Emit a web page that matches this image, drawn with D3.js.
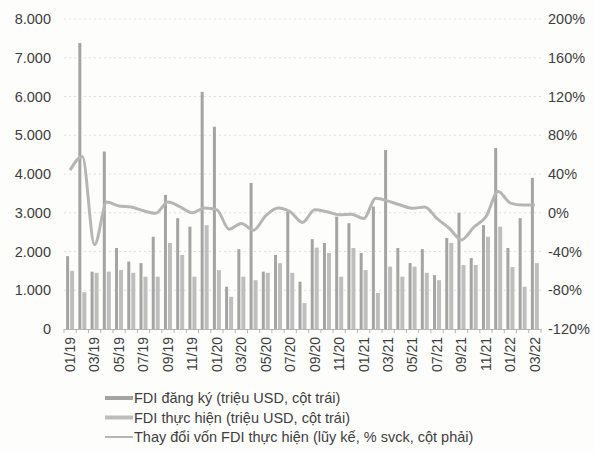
<!DOCTYPE html>
<html>
<head>
<meta charset="utf-8">
<script src="https://cdn.jsdelivr.net/npm/d3@7/dist/d3.min.js"></script>
<style>
  html, body { margin: 0; padding: 0; background: #fdfdfc; }
  svg text { font-family: "Liberation Sans", Arial, sans-serif; fill: #3e3e3e; }
</style>
</head>
<body>
<svg id="chart" width="595" height="451"></svg>
<script>
// Monthly FDI, 01/2019 – 03/2022
const months = [
  "01/19","02/19","03/19","04/19","05/19","06/19","07/19","08/19","09/19","10/19","11/19","12/19",
  "01/20","02/20","03/20","04/20","05/20","06/20","07/20","08/20","09/20","10/20","11/20","12/20",
  "01/21","02/21","03/21","04/21","05/21","06/21","07/21","08/21","09/21","10/21","11/21","12/21",
  "01/22","02/22","03/22"
];
// Registered FDI (million USD, left axis)
const registered = [
  1880, 7380, 1480, 4580, 2090, 1740, 1700, 2380, 3460, 2860, 2640, 6120,
  5220, 1090, 2060, 3770, 1480, 1910, 3030, 1220, 2320, 2220, 2900, 2730,
  1960, 3160, 4620, 2090, 1700, 2060, 1390, 2350, 3000, 1830, 2680, 4670,
  2090, 2860, 3900
];
// Disbursed FDI (million USD, left axis)
const disbursed = [
  1500, 950, 1450, 1480, 1520, 1450, 1350, 1350, 2220, 1910, 1350, 2680,
  1520, 830, 1350, 1260, 1450, 1700, 1450, 670, 2100, 1960, 1350, 2090,
  1520, 930, 1610, 1350, 1610, 1450, 1260, 2220, 1650, 1650, 2380, 2640,
  1600, 1090, 1700
];
// Change in disbursed FDI (cumulative, % y/y, right axis)
const changePct = [
  44, 58, -33, 11, 7, 6, 2, -0.5, 11, 6, 0, 5,
  3, -17, -11, -18, -3, 5, 1, -10, 3, 1, -2, -1.5,
  -6, 15, 12, 8, 4.6, 6, -6, -16, -28, -15, -4, 22,
  10, 8, 8
];
const leftTicks = [0, 1000, 2000, 3000, 4000, 5000, 6000, 7000, 8000];
const rightTicks = [-120, -80, -40, 0, 40, 80, 120, 160, 200];
const legendLabels = [
  "FDI đăng ký (triệu USD, cột trái)",
  "FDI thực hiện (triệu USD, cột trái)",
  "Thay đổi vốn FDI thực hiện (lũy kế, % svck, cột phải)"
];

const svg = d3.select("#chart");
const plot = { left: 64, right: 541, top: 19, bottom: 329 };

const x = d3.scaleBand().domain(months).range([plot.left, plot.right]);
const yL = d3.scaleLinear().domain([0, 8000]).range([plot.bottom, plot.top]);
const yR = d3.scaleLinear().domain([-120, 200]).range([plot.bottom, plot.top]);

// bar geometry inside one month slot
const regW = 3, disW = 4, innerGap = 1;
const groupStart = (x.bandwidth() - (regW + innerGap + disW)) / 2;

const fmtThousands = d3.formatLocale({ decimal: ",", thousands: ".", grouping: [3], currency: ["", ""] }).format(",d");

// faint horizontal gridlines
svg.append("g").selectAll("line").data(leftTicks.slice(1)).join("line")
  .attr("x1", plot.left).attr("x2", plot.right)
  .attr("y1", d => yL(d)).attr("y2", d => yL(d))
  .attr("stroke", "#e0e0e0").attr("stroke-width", 1).attr("stroke-dasharray", "2,3");

// bars
const groups = svg.append("g").selectAll("g").data(months).join("g")
  .attr("transform", d => `translate(${x(d)},0)`);
groups.append("rect")
  .attr("x", groupStart).attr("width", regW)
  .attr("y", (d, i) => yL(registered[i]))
  .attr("height", (d, i) => yL(0) - yL(registered[i]))
  .attr("fill", "#a4a4a4");
groups.append("rect")
  .attr("x", groupStart + regW + innerGap).attr("width", disW)
  .attr("y", (d, i) => yL(disbursed[i]))
  .attr("height", (d, i) => yL(0) - yL(disbursed[i]))
  .attr("fill", "#bebebe");

// bottom axis
const xAxis = d3.axisBottom(x).tickSize(0).tickFormat((d, i) => (i % 2 === 0 ? d : ""));
const gx = svg.append("g").attr("transform", `translate(0,${plot.bottom})`).call(xAxis);
gx.select(".domain").attr("stroke", "#b5b5b5");
gx.selectAll(".tick text")
  .attr("font-size", 14)
  .attr("transform", "rotate(-90)")
  .attr("text-anchor", "end")
  .attr("dx", "-8px").attr("dy", "0.35em").attr("y", 0).attr("x", 0);
// small tick marks between months
svg.append("g").selectAll("line").data(months.concat(["end"])).join("line")
  .attr("x1", (d, i) => plot.left + i * x.bandwidth()).attr("x2", (d, i) => plot.left + i * x.bandwidth())
  .attr("y1", plot.bottom).attr("y2", plot.bottom + 4)
  .attr("stroke", "#b5b5b5");

// left axis
const gl = svg.append("g").attr("transform", `translate(${plot.left},0)`)
  .call(d3.axisLeft(yL).tickValues(leftTicks).tickSize(0).tickPadding(13).tickFormat(fmtThousands));
gl.select(".domain").remove();
gl.selectAll("text").attr("font-size", 14.5);

// right axis
const gr = svg.append("g").attr("transform", `translate(${plot.right},0)`)
  .call(d3.axisRight(yR).tickValues(rightTicks).tickSize(0).tickPadding(7).tickFormat(d => d + "%"));
gr.select(".domain").remove();
gr.selectAll("text").attr("font-size", 14.5);

// change line
const line = d3.line()
  .x((d, i) => x(months[i]) + x.bandwidth() / 2)
  .y(d => yR(d))
  .curve(d3.curveMonotoneX);
svg.append("path").datum(changePct)
  .attr("d", line).attr("fill", "none")
  .attr("stroke", "#b6b6b6").attr("stroke-width", 3).attr("stroke-linejoin", "round");

// legend
const legend = svg.append("g").attr("transform", "translate(105,398)");
const rows = legend.selectAll("g").data(legendLabels).join("g")
  .attr("transform", (d, i) => `translate(0,${i * 19.5})`);
rows.each(function (d, i) {
  const g = d3.select(this);
  if (i < 2) {
    g.append("rect").attr("x", 0).attr("y", -2).attr("width", 28).attr("height", 4)
      .attr("fill", i === 0 ? "#a4a4a4" : "#bebebe");
  } else {
    g.append("line").attr("x1", 0).attr("x2", 28).attr("y1", 0).attr("y2", 0)
      .attr("stroke", "#b6b6b6").attr("stroke-width", 2);
  }
  g.append("text").attr("x", 29).attr("y", 0).attr("dy", "0.35em")
    .attr("font-size", 14.5).text(d);
});
</script>
</body>
</html>
